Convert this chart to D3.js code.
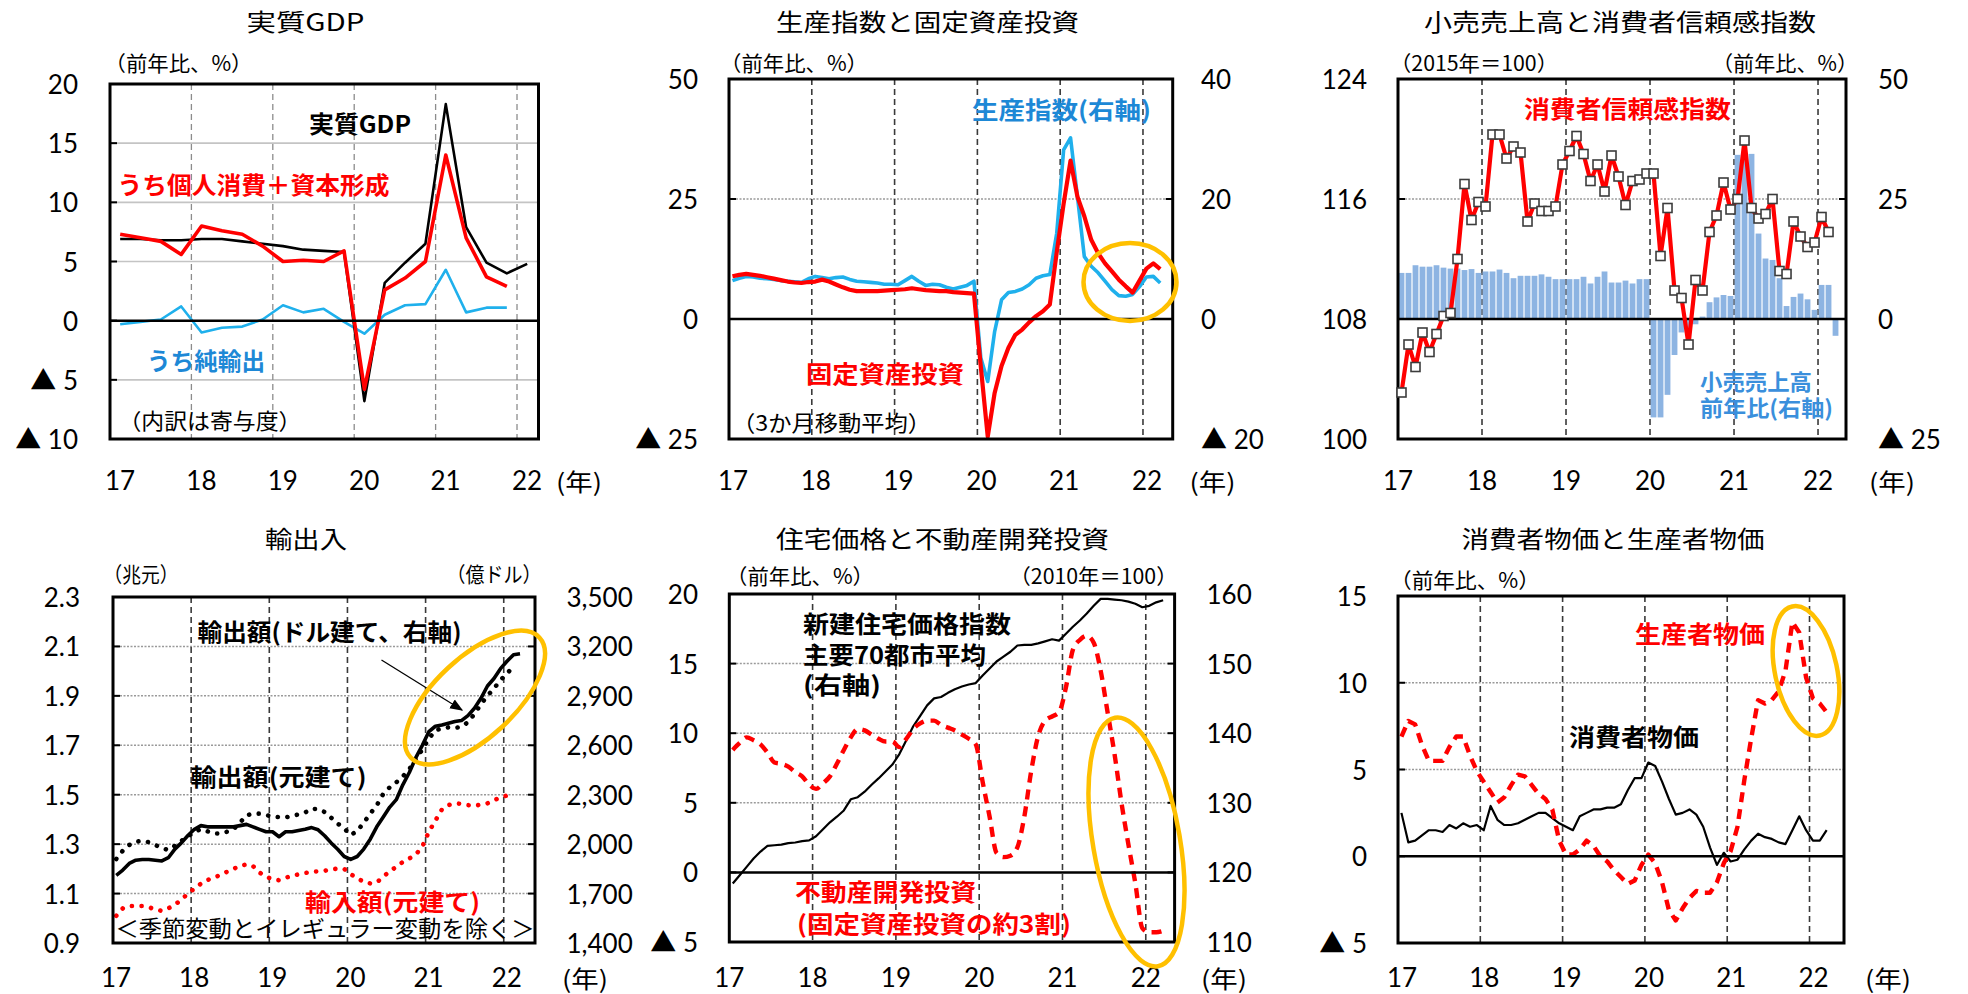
<!DOCTYPE html>
<html>
<head>
<meta charset="utf-8">
<script src="https://cdn.jsdelivr.net/npm/d3@7"></script>
<style>
  body { margin: 0; background: #fff; }
  svg { display: block; }
</style>
</head>
<body>
<div id="chart"></div>
<script>
// ---------- data ----------
const years = [17, 18, 19, 20, 21, 22];

// 実質GDP, quarterly 17Q1-22Q1
const gdpReal = [6.9, 6.9, 6.8, 6.8, 6.9, 6.9, 6.7, 6.5, 6.3, 6.0, 5.9, 5.8, -6.8, 3.2, 4.9, 6.5, 18.3, 7.9, 4.9, 4.0, 4.8];
const gdpDomestic = [7.3, 7.0, 6.7, 5.6, 8.0, 7.6, 7.3, 6.3, 5.0, 5.1, 5.0, 5.9, -5.8, 2.6, 3.6, 5.0, 14.0, 7.0, 3.7, 2.9];
const gdpNetExport = [-0.3, -0.1, 0.1, 1.2, -1.0, -0.6, -0.5, 0.1, 1.3, 0.7, 1.0, -0.1, -1.1, 0.5, 1.3, 1.4, 4.3, 0.7, 1.1, 1.1];

// 生産指数と固定資産投資, monthly 3mma 17/1-22/3
const faInvest = [8.9, 9.2, 9.4, 9.2, 9.0, 8.7, 8.4, 8.1, 7.8, 7.6, 7.5, 7.7,
  7.8, 8.2, 7.8, 7.2, 6.6, 6.1, 5.8, 5.8, 5.8, 5.8, 5.9, 6.0,
  6.1, 6.2, 6.4, 6.2, 6.0, 5.9, 5.8, 5.8, 5.6, 5.5, 5.4, 5.3,
  -10.0, -24.5, -15.4, -9.8, -6.0, -3.3, -2.2, -0.7, 0.6, 1.6, 3.0, 13.9,
  24.0, 33.0, 25.5, 21.4, 16.5, 13.7, 11.6, 9.9, 8.2, 6.8, 5.5, 8.0,
  10.5, 11.6, 10.4];
const indProd = [6.4, 6.8, 7.1, 7.0, 6.8, 6.7, 6.6, 6.4, 6.3, 6.2, 6.1, 6.7,
  7.1, 6.9, 6.7, 6.9, 7.0, 6.6, 6.3, 6.2, 6.1, 6.0, 5.8, 5.8,
  5.7, 6.4, 7.1, 6.3, 5.6, 5.8, 5.7, 5.3, 5.0, 5.3, 5.6, 6.3,
  -6.5, -10.4, -2.1, 3.2, 4.4, 4.6, 5.0, 5.7, 6.8, 7.2, 7.4, 14.3,
  28.2, 30.2, 20.4, 10.4, 8.8, 7.7, 6.3, 4.9, 3.9, 3.8, 4.1, 5.4,
  7.0, 7.1, 6.0];

// 小売売上高 (y/y, right axis) and 消費者信頼感指数
const retailSales = [9.6, 9.6, 11.2, 10.9, 10.9, 11.2, 10.7, 10.5, 10.5, 10.2, 10.4, 9.6,
  9.9, 9.9, 10.3, 9.6, 8.5, 9.0, 9.0, 9.0, 9.3, 8.8, 8.3, 8.3,
  8.3, 8.3, 8.8, 7.4, 8.8, 9.9, 7.6, 7.6, 8.0, 7.4, 8.3, 8.3,
  -20.5, -20.5, -15.8, -7.5, -2.8, -1.9, -1.1, 0.5, 3.5, 4.5, 5.0, 4.8,
  34.2, 34.2, 34.4, 17.8, 12.6, 12.3, 8.5, 2.7, 4.6, 5.3, 4.1, 1.9,
  7.1, 7.1, -3.5];
const consConf = [103.1, 106.3, 104.8, 107.1, 105.8, 107.0, 108.2, 108.4, 112.0, 117.0, 114.6, 115.8,
  115.5, 120.3, 120.3, 118.7, 119.5, 119.1, 114.5, 115.7, 115.2, 115.2, 115.5, 118.3,
  119.2, 120.2, 119.0, 117.2, 118.3, 116.5, 118.9, 117.5, 115.6, 117.2, 117.3, 117.7,
  117.7, 112.2, 115.4, 109.9, 109.4, 106.3, 110.6, 109.9, 113.8, 114.9, 117.1, 115.3,
  116.0, 119.9, 115.4, 114.7, 115.0, 116.0, 111.2, 111.0, 114.5, 113.5, 112.8, 113.1,
  114.8, 113.8];

// 輸出入
const exportYuan = [1.174, 1.195, 1.222, 1.235, 1.238, 1.238, 1.235, 1.232, 1.245, 1.28, 1.305, 1.335,
  1.36, 1.375, 1.37, 1.37, 1.37, 1.37, 1.37, 1.375, 1.38, 1.37, 1.36, 1.35,
  1.35, 1.33, 1.35, 1.35, 1.355, 1.36, 1.367, 1.358, 1.334, 1.305, 1.279, 1.25,
  1.238, 1.25, 1.28, 1.32, 1.37, 1.41, 1.45, 1.48, 1.54, 1.59, 1.65, 1.70,
  1.755, 1.777, 1.782, 1.789, 1.796, 1.80, 1.82, 1.85, 1.89, 1.94, 1.97, 2.01,
  2.04, 2.066, 2.07];
const exportUsd = [1910, 1960, 1995, 2015, 2020, 2012, 1995, 1975, 1965, 1990, 2020, 2045,
  2075, 2090, 2078, 2065, 2065, 2075, 2090, 2130, 2175, 2185, 2185, 2176,
  2168, 2164, 2162, 2172, 2180, 2192, 2215, 2212, 2195, 2160, 2125, 2095,
  2055, 2080, 2130, 2185, 2235, 2305, 2345, 2375, 2410, 2455, 2515, 2575,
  2640, 2690, 2703, 2709, 2705, 2712, 2740, 2790, 2850, 2900, 2945, 2995,
  3035, 3080];
const importYuan = [1.01, 1.04, 1.05, 1.05, 1.05, 1.045, 1.035, 1.03, 1.04, 1.055, 1.075, 1.10,
  1.12, 1.14, 1.155, 1.165, 1.175, 1.188, 1.20, 1.212, 1.218, 1.211, 1.185, 1.168,
  1.158, 1.154, 1.164, 1.172, 1.178, 1.183, 1.188, 1.19, 1.192, 1.198, 1.201, 1.20,
  1.178, 1.163, 1.147, 1.141, 1.145, 1.168, 1.19, 1.208, 1.228, 1.242, 1.258, 1.29,
  1.35, 1.395, 1.44, 1.458, 1.465, 1.463, 1.458, 1.455, 1.46, 1.465, 1.478, 1.488,
  1.497, 1.51];

// 住宅価格と不動産開発投資
const housePrice = [118.4, 119.6, 120.8, 122.0, 123.0, 123.8, 123.9, 124.0, 124.2, 124.3, 124.5, 124.6,
  125.2, 126.2, 127.2, 128.0, 128.9, 130.5, 130.8, 131.6, 132.6, 133.5, 134.5, 135.5,
  137.0, 139.0, 141.0, 142.5, 144.0, 145.0, 145.2, 145.8, 146.3, 146.7, 147.0, 147.2,
  148.3, 149.3, 150.3, 151.0, 151.7, 152.6, 152.7, 152.7, 152.9, 153.2, 153.5, 153.3,
  154.3, 155.3, 156.2, 157.2, 158.3, 159.3, 159.3, 159.2, 159.1, 158.9, 158.6, 158.1,
  158.3, 158.8, 159.1];
const propInvest = [8.8, 9.3, 9.7, 9.5, 9.2, 8.6, 7.9, 7.8, 7.6, 7.2, 6.9, 6.3,
  6.0, 6.4, 6.9, 7.8, 8.8, 9.7, 10.3, 10.2, 9.9, 9.6, 9.4, 9.4,
  9.0, 9.6, 10.3, 10.7, 10.9, 10.9, 10.6, 10.4, 10.2, 9.9, 9.6, 9.2,
  6.5, 4.0, 1.4, 1.1, 1.2, 1.8, 4.0, 7.3, 9.8, 10.9, 11.2, 11.5,
  13.3, 16.0, 16.7, 17.0, 16.5, 14.5, 11.5, 8.5, 5.0, 2.0, -0.8, -4.0,
  -4.3, -4.3, -4.2];

// 消費者物価と生産者物価
const cpi = [2.5, 0.8, 0.9, 1.2, 1.5, 1.5, 1.4, 1.8, 1.6, 1.9, 1.7, 1.8,
  1.5, 2.9, 2.1, 1.8, 1.8, 1.9, 2.1, 2.3, 2.5, 2.5, 2.2, 1.9,
  1.7, 1.5, 2.3, 2.5, 2.7, 2.7, 2.8, 2.8, 3.0, 3.8, 4.5, 4.5,
  5.4, 5.2, 4.3, 3.3, 2.4, 2.5, 2.7, 2.4, 1.7, 0.5, -0.5, 0.2,
  -0.3, -0.2, 0.4, 0.9, 1.3, 1.1, 1.0, 0.8, 0.7, 1.5, 2.3, 1.5,
  0.9, 0.9, 1.5];
const ppi = [6.9, 7.8, 7.6, 6.4, 5.5, 5.5, 5.5, 6.3, 6.9, 6.9, 5.8, 4.9,
  4.3, 3.7, 3.1, 3.4, 4.1, 4.7, 4.6, 4.1, 3.6, 3.3, 2.7, 0.9,
  0.1, 0.1, 0.4, 0.9, 0.6, 0.0, -0.3, -0.8, -1.2, -1.6, -1.4, -0.5,
  0.1, -0.4, -1.5, -3.1, -3.7, -3.0, -2.4, -2.0, -2.1, -2.1, -1.5, -0.4,
  0.3, 1.7, 4.4, 6.8, 9.0, 8.8, 9.0, 9.5, 10.7, 13.5, 12.9, 10.3,
  9.1, 8.8, 8.3];

// ---------- drawing ----------
const RED = '#ff0000';
const SKY = '#1fb0ec';
const LABEL_BLUE = '#1d88d6';
const GOLD = '#ffc000';
const NUM_FONT = "Lato, 'Noto Sans CJK JP', sans-serif";

const svg = d3.select('#chart').append('svg')
  .attr('width', 1968)
  .attr('height', 994)
  .style('font-family', "'Noto Sans CJK JP', sans-serif");

svg.append('defs').append('marker')
  .attr('id', 'arrow')
  .attr('viewBox', '0 0 10 10')
  .attr('refX', 9).attr('refY', 5)
  .attr('markerUnits', 'userSpaceOnUse')
  .attr('markerWidth', 13).attr('markerHeight', 13)
  .attr('orient', 'auto')
  .append('path').attr('d', 'M0,1 L10,5 L0,9 z').attr('fill', '#000');

const monthPos = i => 17 + (i + 0.5) / 12;
const quarterPos = i => 17 + (i + 0.5) / 4;

function lab(g, str, x, y, o = {}) {
  const t = g.append('text')
    .attr('x', x).attr('y', y)
    .attr('dominant-baseline', 'central')
    .attr('text-anchor', o.anchor || 'start')
    .style('font-size', (o.size || 22) + 'px')
    .style('font-weight', o.bold ? 'bold' : 'normal')
    .style('fill', o.fill || '#000')
    .text(str);
  if (o.len) t.attr('textLength', o.len).attr('lengthAdjust', 'spacingAndGlyphs');
  if (o.font) t.style('font-family', o.font);
  return t;
}

const tri = d => d < 0 ? '▲ ' + (-d) : String(d);

// sets up one panel: grid, year lines. returns scales + a finish() for frame and axes
function panel(p) {
  const g = svg.append('g');
  const x = d3.scaleLinear().domain([17, p.xMax]).range([p.left, p.right]);
  const y = d3.scaleLinear().domain(p.yDomain).range([p.bottom, p.top]);
  const y2 = p.y2Domain ? d3.scaleLinear().domain(p.y2Domain).range([p.bottom, p.top]) : null;

  g.selectAll('line.hgrid').data(p.gridAt).join('line')
    .attr('class', 'hgrid')
    .attr('x1', p.left).attr('x2', p.right)
    .attr('y1', d => y(d)).attr('y2', d => y(d))
    .attr('stroke', p.gridSolid ? '#c4c4c4' : '#9a9a9a')
    .attr('stroke-width', p.gridSolid ? 1.6 : 1.5)
    .attr('stroke-dasharray', p.gridSolid ? null : '2,1.5');

  const series = g.append('g');

  function finish() {
    g.selectAll('line.vgrid').data(years.slice(1)).join('line')
      .attr('class', 'vgrid')
      .attr('x1', d => x(d)).attr('x2', d => x(d))
      .attr('y1', p.top).attr('y2', p.bottom)
      .attr('stroke', p.lightYears ? '#8c8c8c' : '#3a3a3a')
      .attr('stroke-width', p.lightYears ? 1.3 : 1.6)
      .attr('stroke-dasharray', '6,4');
    series.raise();

    if (p.zero != null) {
      g.append('line')
        .attr('x1', p.left).attr('x2', p.right)
        .attr('y1', p.zero(y, y2)).attr('y2', p.zero(y, y2))
        .attr('stroke', '#000').attr('stroke-width', 2.5);
    }

    g.append('rect')
      .attr('x', p.left).attr('y', p.top)
      .attr('width', p.right - p.left).attr('height', p.bottom - p.top)
      .attr('fill', 'none').attr('stroke', '#000').attr('stroke-width', 3);

    // left axis
    p.yTicks.forEach(d => {
      g.append('line').attr('x1', p.left).attr('x2', p.left + 7)
        .attr('y1', y(d)).attr('y2', y(d)).attr('stroke', '#000').attr('stroke-width', 2);
      lab(g, p.yFmt(d), p.lLabelX, y(d), { anchor: 'end', size: 26, font: NUM_FONT });
    });
    // right axis
    if (y2) {
      p.y2Ticks.forEach(d => {
        g.append('line').attr('x1', p.right - 7).attr('x2', p.right)
          .attr('y1', y2(d)).attr('y2', y2(d)).attr('stroke', '#000').attr('stroke-width', 2);
        lab(g, p.y2Fmt(d), p.rLabelX, y2(d), { anchor: 'start', size: 26, font: NUM_FONT });
      });
    }
    // year labels
    years.forEach(yr => {
      lab(g, String(yr), x(yr) + p.xOff, p.xLabelY, { anchor: 'middle', size: 26, font: NUM_FONT });
    });
    lab(g, '(年)', p.nenX, p.xLabelY, { size: 24, len: 46 });
  }

  return { g: series, top: g, x, y, y2, finish };
}

function drawLine(g, data, px, sc, o) {
  const line = d3.line()
    .x((d, i) => px(i))
    .y(d => sc(d))
    .curve(o.curve || d3.curveLinear);
  return g.append('path')
    .datum(data)
    .attr('d', line)
    .attr('fill', 'none')
    .attr('stroke', o.color)
    .attr('stroke-width', o.width)
    .attr('stroke-linejoin', 'round')
    .attr('stroke-linecap', o.cap || 'butt')
    .attr('stroke-dasharray', o.dash || null);
}

function ring(g, cx, cy, rx, ry, rot) {
  g.append('ellipse')
    .attr('cx', 0).attr('cy', 0).attr('rx', rx).attr('ry', ry)
    .attr('transform', `translate(${cx},${cy}) rotate(${rot})`)
    .attr('fill', 'none').attr('stroke', GOLD).attr('stroke-width', 4.5);
}

// ---- 1: 実質GDP ----
{
  const P = panel({
    left: 110, right: 538.5, top: 84, bottom: 439, xMax: 22.264,
    yDomain: [-10, 20], gridAt: [15, 10, 5, -5], gridSolid: true, lightYears: true,
    yTicks: [20, 15, 10, 5, 0, -5, -10], yFmt: tri, lLabelX: 78,
    zero: y => y(0), xOff: 10, xLabelY: 480, nenX: 556
  });
  const px = i => P.x(quarterPos(i));
  drawLine(P.g, gdpNetExport, px, P.y, { color: SKY, width: 2.6 });
  drawLine(P.g, gdpReal, px, P.y, { color: '#000', width: 2.6 });
  drawLine(P.g, gdpDomestic, px, P.y, { color: RED, width: 3.6 });
  P.finish();
  const t = P.top;
  lab(t, '実質GDP', 305.5, 20, { anchor: 'middle', size: 24, len: 118 });
  lab(t, '（前年比、%）', 104.5, 62, { size: 21, len: 148 });
  lab(t, '実質GDP', 309, 122, { size: 24, bold: true, len: 102 });
  lab(t, 'うち個人消費＋資本形成', 117.5, 183, { size: 24, bold: true, fill: RED, len: 272 });
  lab(t, 'うち純輸出', 147, 359, { size: 24, bold: true, fill: LABEL_BLUE, len: 118 });
  lab(t, '（内訳は寄与度）', 118.5, 419, { size: 22, len: 183 });
}

// ---- 2: 生産指数と固定資産投資 ----
{
  const P = panel({
    left: 729, right: 1172.7, top: 79, bottom: 439, xMax: 22.359,
    yDomain: [-25, 50], y2Domain: [-20, 40], gridAt: [25],
    yTicks: [50, 25, 0, -25], yFmt: tri, lLabelX: 698,
    y2Ticks: [40, 20, 0, -20], y2Fmt: tri, rLabelX: 1201,
    zero: y => y(0), xOff: 4, xLabelY: 480, nenX: 1189.5
  });
  const px = i => P.x(monthPos(i));
  drawLine(P.g, indProd, px, P.y2, { color: SKY, width: 3.6 });
  drawLine(P.g, faInvest, px, P.y, { color: RED, width: 4.2 });
  P.finish();
  const t = P.top;
  lab(t, '生産指数と固定資産投資', 927.5, 20, { anchor: 'middle', size: 24, len: 303 });
  lab(t, '（前年比、%）', 720, 62, { size: 21, len: 148 });
  lab(t, '生産指数(右軸)', 972, 108, { size: 24, bold: true, fill: LABEL_BLUE, len: 179 });
  lab(t, '固定資産投資', 806, 372, { size: 24, bold: true, fill: RED, len: 158 });
  lab(t, '（3か月移動平均）', 732, 421, { size: 22, len: 199 });
  ring(t, 1130, 282, 46.5, 39, 0);
}

// ---- 3: 小売売上高と消費者信頼感指数 ----
{
  const P = panel({
    left: 1398, right: 1846, top: 79, bottom: 439, xMax: 22.333,
    yDomain: [100, 124], y2Domain: [-25, 50], gridAt: [116],
    yTicks: [124, 116, 108, 100], yFmt: d => String(d), lLabelX: 1367,
    y2Ticks: [50, 25, 0, -25], y2Fmt: tri, rLabelX: 1878,
    zero: (y, y2) => y2(0), xOff: 0, xLabelY: 480, nenX: 1869
  });
  const bx = i => P.x(17 + i / 12);
  P.g.selectAll('rect.bar').data(retailSales).join('rect')
    .attr('class', 'bar')
    .attr('x', (d, i) => bx(i) + 0.6)
    .attr('width', (d, i) => bx(i + 1) - bx(i) - 1.2)
    .attr('y', d => Math.min(P.y2(d), P.y2(0)))
    .attr('height', d => Math.abs(P.y2(d) - P.y2(0)))
    .attr('fill', '#8db4e2');
  const px = i => P.x(monthPos(i));
  const lineG = P.top.append('g');
  P.finish();
  lineG.raise();
  drawLine(lineG, consConf, px, P.y, { color: RED, width: 4.2 });
  lineG.selectAll('rect.mk').data(consConf).join('rect')
    .attr('class', 'mk')
    .attr('x', (d, i) => px(i) - 4.5)
    .attr('y', d => P.y(d) - 4.5)
    .attr('width', 9).attr('height', 9)
    .attr('fill', '#fff').attr('stroke', '#3c3c3c').attr('stroke-width', 1.6);
  const t = P.top;
  lab(t, '小売売上高と消費者信頼感指数', 1620, 20, { anchor: 'middle', size: 24, len: 392 });
  lab(t, '（2015年＝100）', 1390, 62, { size: 21, len: 168 });
  lab(t, '（前年比、%）', 1712, 62, { size: 21, len: 146 });
  lab(t, '消費者信頼感指数', 1524, 107, { size: 24, bold: true, fill: RED, len: 207 });
  lab(t, '小売売上高', 1700, 380, { size: 22, bold: true, fill: '#3a8fdc', len: 112 });
  lab(t, '前年比(右軸)', 1700, 406, { size: 22, bold: true, fill: '#3a8fdc', len: 133 });
}

// ---- 4: 輸出入 ----
{
  const P = panel({
    left: 113, right: 535, top: 597, bottom: 943, xMax: 22.40,
    yDomain: [0.9, 2.3], y2Domain: [1400, 3500], gridAt: [2.1, 1.9, 1.7, 1.5, 1.3, 1.1],
    yTicks: [2.3, 2.1, 1.9, 1.7, 1.5, 1.3, 1.1, 0.9], yFmt: d3.format('.1f'), lLabelX: 80,
    y2Ticks: [3500, 3200, 2900, 2600, 2300, 2000, 1700, 1400], y2Fmt: d3.format(','), rLabelX: 566.5,
    zero: null, xOff: 3, xLabelY: 977, nenX: 562
  });
  const px = i => P.x(monthPos(i));
  drawLine(P.g, importYuan, px, P.y, { color: RED, width: 4.6, dash: '0.1,9.6', cap: 'round' });
  drawLine(P.g, exportUsd, px, P.y2, { color: '#000', width: 4.6, dash: '0.1,9.6', cap: 'round' });
  drawLine(P.g, exportYuan, px, P.y, { color: '#000', width: 3.6 });
  P.finish();
  const t = P.top;
  lab(t, '輸出入', 306, 537, { anchor: 'middle', size: 24, len: 82 });
  lab(t, '（兆元）', 103.5, 573, { size: 21, len: 75 });
  lab(t, '（億ドル）', 446.5, 573, { size: 21, len: 95 });
  lab(t, '輸出額(ドル建て、右軸)', 197.5, 630, { size: 24, bold: true, len: 264 });
  t.append('line')
    .attr('x1', 381.5).attr('y1', 660).attr('x2', 462).attr('y2', 710)
    .attr('stroke', '#000').attr('stroke-width', 1.3)
    .attr('marker-end', 'url(#arrow)');
  lab(t, '輸出額(元建て)', 190.5, 775, { size: 24, bold: true, len: 176 });
  lab(t, '輸入額(元建て)', 305, 900, { size: 24, bold: true, fill: RED, len: 175 });
  lab(t, '＜季節変動とイレギュラー変動を除く＞', 115.5, 927, { size: 23, len: 419 });
  ring(t, 475, 697.5, 88, 40, -43);
}

// ---- 5: 住宅価格と不動産開発投資 ----
{
  const P = panel({
    left: 729.3, right: 1174.6, top: 594, bottom: 942, xMax: 22.346,
    yDomain: [-5, 20], y2Domain: [110, 160], gridAt: [15, 10, 5],
    yTicks: [20, 15, 10, 5, 0, -5], yFmt: tri, lLabelX: 698,
    y2Ticks: [160, 150, 140, 130, 120, 110], y2Fmt: d => String(d), rLabelX: 1206.5,
    zero: y => y(0), xOff: 0, xLabelY: 977, nenX: 1201
  });
  const px = i => P.x(monthPos(i));
  drawLine(P.g, housePrice, px, P.y2, { color: '#000', width: 2.2 });
  drawLine(P.g, propInvest, px, P.y, { color: RED, width: 4.4, dash: '10,7', curve: d3.curveMonotoneX });
  P.finish();
  const t = P.top;
  lab(t, '住宅価格と不動産開発投資', 942.5, 537, { anchor: 'middle', size: 24, len: 333 });
  lab(t, '（前年比、%）', 726, 575, { size: 21, len: 148 });
  lab(t, '（2010年＝100）', 1009.5, 575, { size: 21, len: 168 });
  lab(t, '新建住宅価格指数', 803, 622, { size: 24, bold: true, len: 208 });
  lab(t, '主要70都市平均', 803, 653, { size: 24, bold: true, len: 183 });
  lab(t, '(右軸)', 803, 683, { size: 24, bold: true, len: 78 });
  lab(t, '不動産開発投資', 795, 890, { size: 24, bold: true, fill: RED, len: 181 });
  lab(t, '(固定資産投資の約3割)', 797, 922, { size: 24, bold: true, fill: RED, len: 274 });
  ring(t, 1136.5, 842, 43.5, 126, -9.8);
}

// ---- 6: 消費者物価と生産者物価 ----
{
  const P = panel({
    left: 1398, right: 1844, top: 596, bottom: 943, xMax: 22.419,
    yDomain: [-5, 15], gridAt: [10, 5],
    yTicks: [15, 10, 5, 0, -5], yFmt: tri, lLabelX: 1367,
    zero: y => y(0), xOff: 4, xLabelY: 977, nenX: 1865
  });
  const px = i => P.x(monthPos(i));
  drawLine(P.g, cpi, px, P.y, { color: '#000', width: 2.2 });
  drawLine(P.g, ppi, px, P.y, { color: RED, width: 4.4, dash: '10,7' });
  P.finish();
  const t = P.top;
  lab(t, '消費者物価と生産者物価', 1613, 537, { anchor: 'middle', size: 24, len: 303 });
  lab(t, '（前年比、%）', 1390, 579, { size: 21, len: 150 });
  lab(t, '生産者物価', 1635, 632, { size: 24, bold: true, fill: RED, len: 130 });
  lab(t, '消費者物価', 1569, 735, { size: 24, bold: true, len: 130 });
  ring(t, 1806, 671, 31, 66, -12);
}
</script>
</body>
</html>
